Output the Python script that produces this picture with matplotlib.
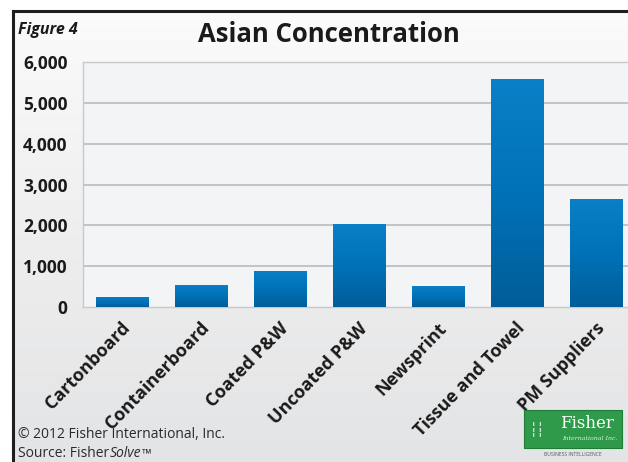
import numpy as np
import matplotlib
matplotlib.use("Agg")
import matplotlib.pyplot as plt
import matplotlib.transforms as mtransforms
from matplotlib.patches import Rectangle
from matplotlib.lines import Line2D
from matplotlib.colors import LinearSegmentedColormap

categories = ["Cartonboard", "Containerboard", "Coated P&W", "Uncoated P&W",
              "Newsprint", "Tissue and Towel", "PM Suppliers"]
values = [250, 550, 890, 2040, 530, 5580, 2640]
yticks = [0, 1000, 2000, 3000, 4000, 5000, 6000]
ytick_labels = ["0", "1,000", "2,000", "3,000", "4,000", "5,000", "6,000"]

W, H = 628, 462
DPI = 100
plt.rcParams["font.family"] = ["Open Sans", "DejaVu Sans"]

fig = plt.figure(figsize=(W / DPI, H / DPI), dpi=DPI, facecolor="white")


def fx(px):
    return px / W


def fy(py):
    return 1 - py / H


# framed panel with a soft vertical gradient
frame_l, frame_t = 13, 11
bg = fig.add_axes([fx(frame_l), 0, 1 - fx(frame_l), fy(frame_t)], zorder=0)
grad = np.linspace(0, 1, 256).reshape(-1, 1)
bg_cmap = LinearSegmentedColormap.from_list("bg", ["#fbfbfb", "#eeeeef", "#e3e4e5"])
bg.imshow(grad, aspect="auto", cmap=bg_cmap, extent=[0, 1, 0, 1], origin="upper")
bg.set_xlim(0, 1)
bg.set_ylim(0, 1)
bg.axis("off")
fig.add_artist(Line2D([fx(frame_l), fx(frame_l)], [0, fy(frame_t)], color="#1e1e1e", lw=2.2))
fig.add_artist(Line2D([fx(frame_l), 1], [fy(frame_t), fy(frame_t)], color="#1e1e1e", lw=2.2))

# plot area
left, top, bottom, right = 82.7, 61.7, 307.3, 636.0
ax = fig.add_axes([fx(left), fy(bottom), fx(right - left), (bottom - top) / H], zorder=1)
ax.set_facecolor("#f3f4f5")
ax.set_xlim(-0.5, len(categories) - 0.5)
ax.set_ylim(0, 6000)

for y in yticks[1:]:
    ax.axhline(y, color="#bfbfbf", lw=1.3, zorder=1)

x = np.arange(len(categories))
bars = ax.bar(x, values, width=0.67, color="#0070b5", zorder=2, lw=0)
bar_cmap = LinearSegmentedColormap.from_list("bar", ["#0a80c8", "#0072b8", "#005d99"])
for b in bars:
    bx, by = b.get_x(), b.get_y()
    bw, bh = b.get_width(), b.get_height()
    im = ax.imshow(grad, aspect="auto", cmap=bar_cmap, origin="upper",
                   extent=[bx, bx + bw, by, by + bh], zorder=3)
    im.set_clip_path(b)
ax.set_xlim(-0.5, len(categories) - 0.5)
ax.set_ylim(0, 6000)

for s in ax.spines.values():
    s.set_color("#c9c9c9")
    s.set_linewidth(1.0)

ax.set_yticks(yticks)
ax.set_yticklabels(ytick_labels, fontsize=12.5, fontweight="bold", color="#1a1a1a")
ax.tick_params(axis="y", length=0, pad=11)
ax.set_xticks(x)
ax.set_xticklabels(categories, fontsize=13, fontweight="bold", color="#1a1a1a",
                   rotation=46, ha="right", va="center", rotation_mode="anchor")
ax.tick_params(axis="x", length=0, pad=13)
shift = mtransforms.ScaledTranslation(5 / DPI, 0, fig.dpi_scale_trans)
for lab in ax.get_xticklabels():
    lab.set_transform(lab.get_transform() + shift)

# titles
fig.text(fx(18), fy(30), "Figure 4", fontsize=11.5, fontweight="bold", style="italic",
         color="#1a1a1a", ha="left", va="center")
fig.text(fx(329), fy(34), "Asian Concentration", fontsize=18.5, fontweight="bold",
         color="#1a1a1a", ha="center", va="center")

# footer
fig.text(fx(18), fy(434), "\u00a9 2012 Fisher International, Inc.", fontsize=10,
         color="#2a2a2a", ha="left", va="center")
t1 = fig.text(fx(18), fy(457), "Source: Fisher", fontsize=10, color="#2a2a2a",
              ha="left", va="baseline")
t2 = fig.text(0, 0, "Solve", fontsize=10, style="italic", color="#2a2a2a",
              ha="left", va="baseline", transform=None)
fig.canvas.draw()
r = fig.canvas.get_renderer()
e1 = t1.get_window_extent(r)
base_y = fig.transFigure.transform((0, fy(457)))[1]
t2.set_position((e1.x1 + 0.5, base_y))
t2.set_transform(mtransforms.IdentityTransform())
e2 = t2.get_window_extent(r)
fig.text(e2.x1 + 0.5, base_y, "\u2122", fontsize=9, color="#2a2a2a", ha="left",
         va="baseline", transform=mtransforms.IdentityTransform())

# company badge
logo = Rectangle((fx(524), fy(448)), fx(98), (448 - 410) / H, transform=fig.transFigure,
                 facecolor="#2f9a4a", edgecolor="#1f7a36", lw=0.8, zorder=5)
fig.add_artist(logo)
fig.text(fx(560), fy(424), "Fisher", fontsize=12, family="DejaVu Serif", color="white",
         ha="left", va="center", zorder=6)
fig.text(fx(562), fy(439), "International Inc.", fontsize=4.5, family="DejaVu Serif",
         style="italic", color="#d9f0dd", ha="left", va="center", zorder=6)
fig.text(fx(537), fy(430), "\u2506\u2506", fontsize=9, color="white", ha="center",
         va="center", zorder=6)
fig.text(fx(573), fy(455), "BUSINESS INTELLIGENCE", fontsize=3.6, color="#555555",
         ha="center", va="center", zorder=6)

fig.savefig("out.png", dpi=DPI, facecolor="white")
